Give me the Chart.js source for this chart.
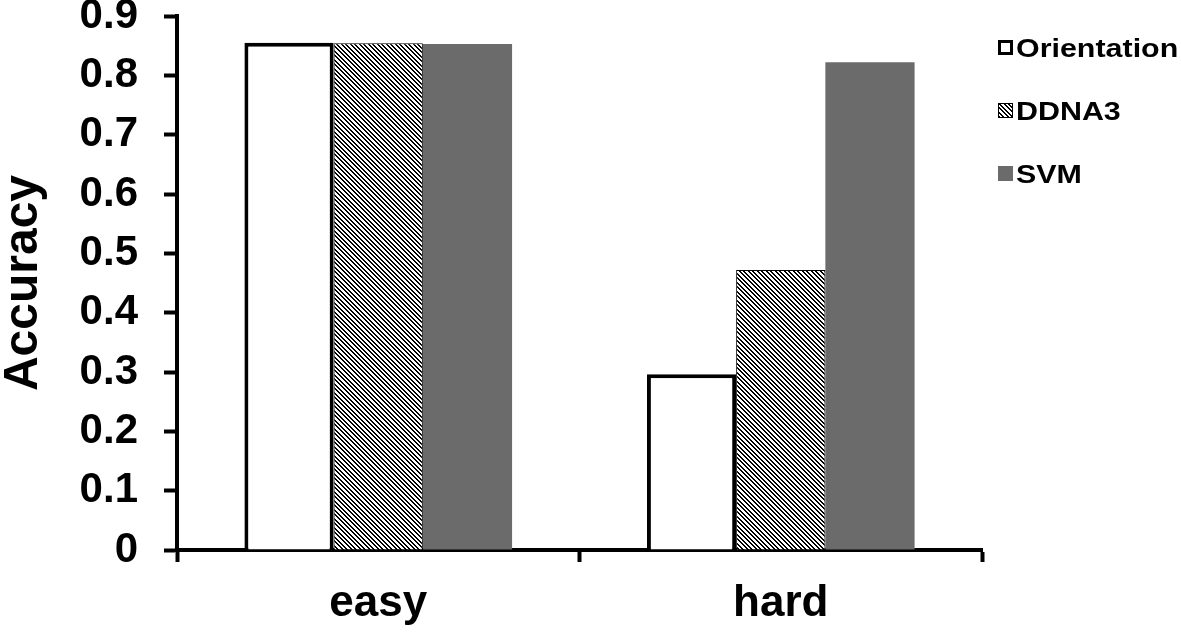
<!DOCTYPE html>
<html>
<head>
<meta charset="utf-8">
<script src="https://cdn.jsdelivr.net/npm/chart.js@4/dist/chart.umd.min.js"></script>
<style>
    html, body { margin: 0; padding: 0; background: #fff; }
    #wrap { width: 1181px; height: 633px; }
</style>
</head>
<body>
<div id="wrap"><canvas id="accChart" width="1181" height="633"></canvas></div>
<script>
// Data
var categories = ['easy', 'hard'];
var seriesNames = ['Orientation', 'DDNA3', 'SVM'];
var orientationValues = [0.855, 0.296];
var ddna3Values = [0.854, 0.472];
var svmValues = [0.853, 0.822];
var yTickLabels = ['0', '0.1', '0.2', '0.3', '0.4', '0.5', '0.6', '0.7', '0.8', '0.9'];

var FONT = "'Liberation Sans', Arial, sans-serif";

// Diagonal hatch fill for DDNA3
function makeHatch() {
    var size = 9;
    var c = document.createElement('canvas');
    c.width = size; c.height = size;
    var g = c.getContext('2d');
    g.fillStyle = '#fff';
    g.fillRect(0, 0, size, size);
    g.fillStyle = '#000';
    for (var y = 0; y < size; y++) {
        for (var x = 0; x < size; x++) {
            var d = ((x - y) % size + size) % size;
            if (d < 2 || d === 4 || d === 5) {
                g.fillRect(x, y, 1, 1);
            }
        }
    }
    return document.getElementById('accChart').getContext('2d').createPattern(c, 'repeat');
}
var hatch = makeHatch();

// Legend on the right side
var sideLegend = {
    id: 'sideLegend',
    afterDraw: function (chart) {
        var ctx = chart.ctx;
        var area = chart.chartArea;
        chart.data.datasets.forEach(function (ds, i) {
            var cy = area.top + 31 + i * 63;
            var bx = area.right + 16;
            ctx.save();
            ctx.fillStyle = ds.backgroundColor;
            ctx.fillRect(bx, cy - 7, 15, 15);
            if (ds.legendBorder) {
                ctx.lineWidth = ds.legendBorder;
                ctx.strokeStyle = '#000';
                ctx.strokeRect(bx + ds.legendBorder / 2, cy - 7 + ds.legendBorder / 2,
                    15 - ds.legendBorder, 15 - ds.legendBorder);
            }
            ctx.fillStyle = '#000';
            ctx.font = 'bold 26px ' + FONT;
            ctx.textBaseline = 'middle';
            ctx.translate(bx + 18, cy + 3);
            ctx.scale(1.17, 1);
            ctx.fillText(ds.label, 0, 0);
            ctx.restore();
        });
    }
};

var ctx = document.getElementById('accChart').getContext('2d');
var accChart = new Chart(ctx, {
    type: 'bar',
    data: {
        labels: categories,
        datasets: [{
            label: seriesNames[0],
            data: orientationValues,
            backgroundColor: '#ffffff',
            borderColor: '#000000',
            borderWidth: 4,
            legendBorder: 3
        }, {
            label: seriesNames[1],
            data: ddna3Values,
            backgroundColor: hatch,
            borderColor: '#000000',
            borderWidth: 1,
            legendBorder: 1
        }, {
            label: seriesNames[2],
            data: svmValues,
            backgroundColor: '#6b6b6b',
            borderWidth: 0,
            legendBorder: 0
        }]
    },
    options: {
        responsive: false,
        animation: false,
        devicePixelRatio: 1,
        layout: {
            padding: { top: 16, right: 199, left: 0, bottom: 0 }
        },
        datasets: {
            bar: {
                categoryPercentage: 0.665,
                barPercentage: 1.0
            }
        },
        plugins: {
            legend: { display: false },
            tooltip: { enabled: false }
        },
        scales: {
            y: {
                min: 0,
                max: 0.9,
                ticks: {
                    stepSize: 0.1,
                    color: '#000',
                    padding: 26,
                    font: { family: FONT, size: 42, weight: 'bold', lineHeight: 1 },
                    callback: function (value, index) {
                        return yTickLabels[index];
                    }
                },
                grid: {
                    drawOnChartArea: false,
                    tickLength: 13,
                    tickWidth: 4,
                    tickColor: '#000'
                },
                border: { color: '#000', width: 4 },
                title: {
                    display: true,
                    text: 'Accuracy',
                    color: '#000',
                    padding: { top: 0, bottom: 0 },
                    font: { family: FONT, size: 48, weight: 'bold', lineHeight: 1 }
                },
                afterFit: function (scale) {
                    scale.width = 177;
                    scale.paddingTop = 0;
                    scale.paddingBottom = 0;
                }
            },
            x: {
                ticks: {
                    color: '#000',
                    padding: 15,
                    font: { family: FONT, size: 44, weight: 'bold' }
                },
                grid: {
                    offset: true,
                    drawOnChartArea: false,
                    tickLength: 12,
                    tickWidth: 4,
                    tickColor: '#000'
                },
                border: { color: '#000', width: 4 },
                afterFit: function (scale) {
                    scale.height = 83;
                    scale.paddingLeft = 0;
                    scale.paddingRight = 0;
                }
            }
        }
    },
    plugins: [sideLegend]
});
</script>
</body>
</html>
